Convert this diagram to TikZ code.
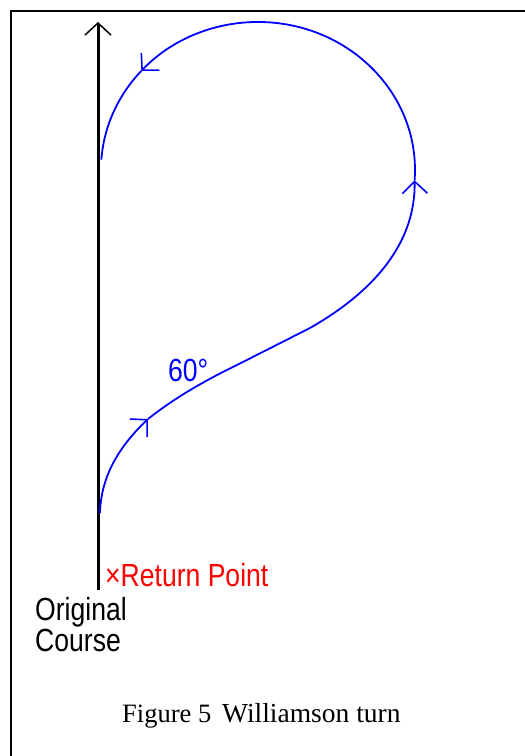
\documentclass[tikz,border=0pt]{standalone}
\usepackage{fontspec}
\setmainfont{Liberation Serif}
\newfontfamily\pixfont[FakeStretch=0.83]{Liberation Sans}
\usetikzlibrary{arrows.meta}
\tikzset{
  course line/.style={
    -{Straight Barb[length=12pt, width=26pt, line width=1.5pt]},
    line width=3pt,
    color=black
  },
  turn path/.style={
    line width=1.8pt,
    color=blue
  },
  turn arrow/.style={
    turn path,
    -{Straight Barb[length=12pt, width=25pt, line width=1.6pt]}
  },
  pixel label/.style={
    font=\pixfont\fontsize{32}{32}\selectfont,
    inner sep=0pt,
    anchor=base west
  }
}

\begin{document}
\begin{tikzpicture}[x=1pt, y=1pt]
    \useasboundingbox (0,0) rectangle (525,756);

    % frame (cut off at right and bottom)
    \draw[line width=2pt] (525,745) -- (11,745) -- (11,0);

    % original course
    \coordinate (return) at (98,166);
    \coordinate (ahead) at (98,734);
    \draw[course line] (return) -- (ahead);

    % Williamson turn
    \coordinate (start) at (100,243);
    \coordinate (turnA) at (148,337);
    \coordinate (leg1) at (235,390);
    \coordinate (leg2) at (310,428);
    \coordinate (right) at (414.6,575.7);

    \draw[turn arrow] (start) .. controls (101,285) and (125,315) .. (turnA);
    \draw[turn path] (turnA) .. controls (172,356) and (200,373) .. (leg1) -- (leg2);
    \draw[turn arrow] (leg2) .. controls (345,448) and (416,495) .. (right);
    \draw[turn arrow] (right) arc[start angle=-4, end angle=138, x radius=157, y radius=148]
      coordinate (topleft);
    \draw[turn path] (topleft) arc[start angle=138, end angle=176, x radius=157, y radius=148];

    % labels
    \node[pixel label, blue] (angle) at (168,374) {60°};
    \node[pixel label, red] (rp) at (105,169) {×Return Point};
    \node[pixel label] (orig) at (35,135) {Original};
    \node[pixel label] (course) at (35,104) {Course};

    % caption
    \node[anchor=base west, inner sep=0pt, font=\fontsize{26.5}{26.5}\selectfont] (fig) at (122,33) {Figure 5};
    \node[anchor=base west, inner sep=0pt, font=\fontsize{27.5}{27.5}\selectfont] (title) at (222,33) {Williamson turn};

\end{tikzpicture}
\end{document}
